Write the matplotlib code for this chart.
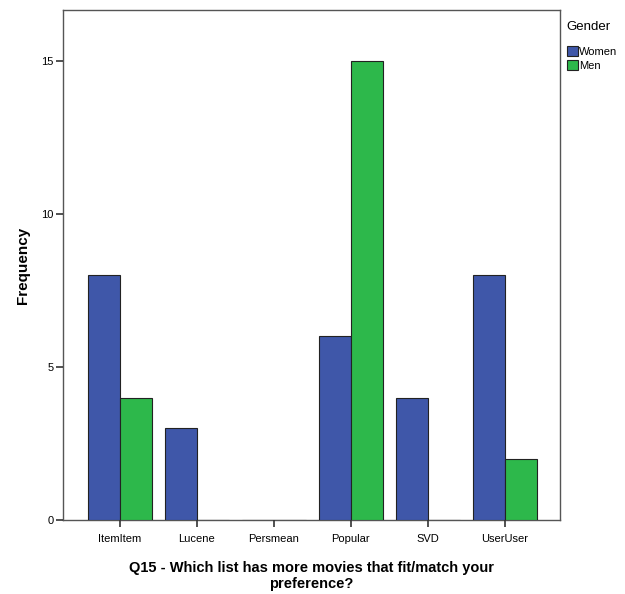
import matplotlib
matplotlib.use("Agg")
import matplotlib.pyplot as plt
import numpy as np

categories = ["ItemItem", "Lucene", "Persmean", "Popular", "SVD", "UserUser"]
women = [8, 3, 0, 6, 4, 8]
men = [4, 0, 0, 15, 0, 2]
yticks = [0, 5, 10, 15]

blue = "#3f57a9"
green = "#2db84b"

plt.rcParams['font.family'] = ['Liberation Sans', 'DejaVu Sans']

fig = plt.figure(figsize=(6.25, 5.94), dpi=100)
ax = fig.add_axes([0.1008, 0.1246, 0.7952, 0.8586])

x = np.arange(len(categories))
w = 0.415
ax.bar(x - w / 2, women, w, color=blue, edgecolor="#222222", linewidth=0.8,
       label="Women", zorder=3)
ax.bar(x + w / 2, men, w, color=green, edgecolor="#222222", linewidth=0.8,
       label="Men", zorder=3)

ax.set_xlim(-0.74, 5.72)
ax.set_ylim(0, 16.67)
ax.set_xticks(x)
ax.set_xticklabels(categories, fontsize=8)
ax.set_yticks(yticks)
ax.set_yticklabels([str(t) for t in yticks], fontsize=8)
ax.tick_params(axis="both", length=5, width=1.2, color="#333333")
ax.tick_params(axis="x", pad=5)
ax.tick_params(axis="y", pad=2)

for s in ax.spines.values():
    s.set_color("#555555")
    s.set_linewidth(1.0)
    s.set_zorder(1)

ax.set_ylabel("Frequency", fontsize=11, fontweight="bold", labelpad=8)
ax.set_xlabel("Q15 - Which list has more movies that fit/match your\npreference?",
              fontsize=10.5, fontweight="bold", labelpad=12)

leg = ax.legend(title="Gender", loc="upper left", bbox_to_anchor=(0.998, 0.993),
                frameon=False, fontsize=8, title_fontsize=9.5,
                handlelength=1.0, handleheight=1.0, handletextpad=0.1,
                labelspacing=0.3, borderaxespad=0.3)
leg._legend_box.align = "left"
leg._legend_box.sep = 9

fig.savefig("out.png", dpi=100)
